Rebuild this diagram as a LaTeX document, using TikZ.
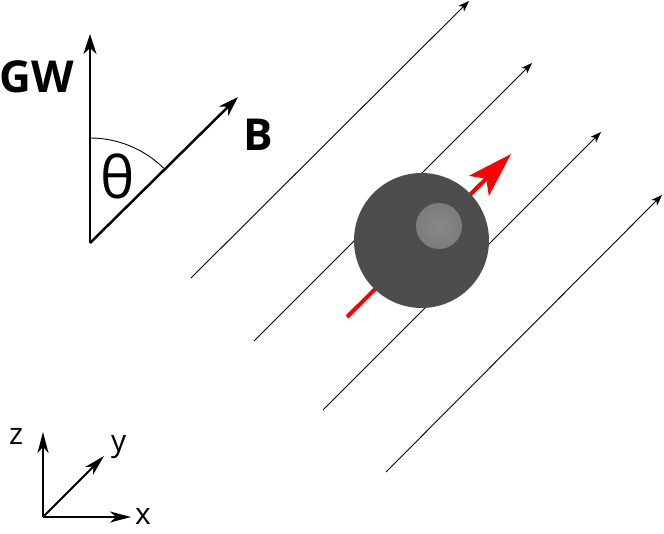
\documentclass[tikz,border=0pt]{standalone}
\usepackage{fontspec}
\setmainfont{Open Sans}
\usetikzlibrary{arrows.meta}
\definecolor{sph}{HTML}{4D4D4D}
\definecolor{hlin}{HTML}{888888}
\definecolor{hlmid}{HTML}{7C7C7C}
\definecolor{hlout}{HTML}{5E5E5E}
\definecolor{redarr}{HTML}{FF0000}
\pgfdeclareradialshading{hlshade}{\pgfpoint{0bp}{0bp}}{color(0bp)=(hlin); color(25bp)=(hlmid); color(45bp)=(hlout); color(50bp)=(sph); color(100bp)=(sph)}
\begin{document}
\begin{tikzpicture}[x=1pt,y=-1pt,
  field/.style={line width=0.9pt,-{Stealth[length=11pt,width=8pt,inset=3pt]}},
  bigarrow/.style={line width=2.5pt,-{Stealth[length=20pt,width=13pt,inset=6pt]}},
  axisarrow/.style={line width=2pt,-{Stealth[length=21pt,width=11pt,inset=6pt]}},
  bigtext/.style={inner sep=0pt,font=\fontsize{44}{50}\selectfont\bfseries},
  thetatext/.style={inner sep=0pt,font=\fontsize{58}{64}\selectfont},
  axtext/.style={inner sep=0pt,font=\fontsize{30}{34}\selectfont}]
\useasboundingbox (0,0) rectangle (664,533);
% field lines
\coordinate (f1s) at (191,278); \coordinate (f1e) at (469,1);
\coordinate (f2s) at (254,341); \coordinate (f2e) at (532,63);
\coordinate (f3s) at (323,410); \coordinate (f3e) at (601,132);
\coordinate (f4s) at (386,472); \coordinate (f4e) at (662,195);
\draw[field] (f1s) -- (f1e);
\draw[field] (f2s) -- (f2e);
\draw[field] (f3s) -- (f3e);
\draw[field] (f4s) -- (f4e);
% red spin arrow
\coordinate (rs) at (347,317); \coordinate (re) at (511,154);
\draw[redarr,line width=4pt,-{Stealth[length=45pt,width=28pt,inset=10pt]}] (rs) -- (re);
% sphere
\fill[sph] (421.5,240.5) circle[radius=67.5];
\shade[shading=hlshade] (439,226) circle[radius=23];
% GW / B diagram
\coordinate (o) at (90,243);
\coordinate (gw) at (90,34);
\coordinate (b) at (238,97);
\draw[bigarrow] (o) -- (gw);
\draw[bigarrow] (o) -- (b);
\draw[line width=0.9pt] (90,138) arc[start angle=-90,end angle=-45.5,radius=105];
\node[bigtext,anchor=base west] (gwl) at (-1,92) {GW};
\node[bigtext,anchor=base west] (bl) at (243,150) {B};
\node[thetatext,anchor=base west] (th) at (100,198) {θ};
% axes
\coordinate (ao) at (43,517);
\coordinate (az) at (43,432);
\coordinate (ax) at (131,517);
\coordinate (ay) at (104,456);
\draw[axisarrow] (ao) -- (az);
\draw[axisarrow] (ao) -- (ax);
\draw[axisarrow] (ao) -- (ay);
\node[axtext,anchor=base west] (zl) at (9,444) {z};
\node[axtext,anchor=base west] (yl) at (111,451) {y};
\node[axtext,anchor=base west] (xl) at (135,524) {x};
\end{tikzpicture}
\end{document}
